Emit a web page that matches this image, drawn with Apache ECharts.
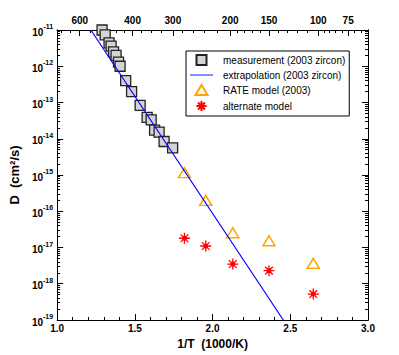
<!DOCTYPE html>
<html>
<head>
<meta charset="utf-8">
<script src="https://cdn.jsdelivr.net/npm/echarts@6/dist/echarts.min.js"></script>
<style>html,body{margin:0;padding:0;background:#fff}#c{width:399px;height:355px}</style>
</head>
<body>
<div id="c"></div>
<script>
// ---- data ----
var measX = [1.289, 1.309, 1.334, 1.347, 1.363, 1.379, 1.395, 1.405, 1.441, 1.479, 1.534, 1.579, 1.605, 1.627, 1.656, 1.688, 1.743];
var measD = [1.0e-11, 7.3e-12, 4.4e-12, 3.6e-12, 2.5e-12, 2.0e-12, 1.3e-12, 1.0e-12, 4.0e-13, 2.0e-13, 8.3e-14, 3.9e-14, 3.3e-14, 1.74e-14, 1.53e-14, 8.4e-15, 5.6e-15];
var extrapX = [1.217, 2.455];
var extrapD = [1e-11, 1e-19];
var modelX = [1.819, 1.956, 2.130, 2.363, 2.648];
var rateD = [1.16e-15, 2.0e-16, 2.56e-17, 1.54e-17, 3.66e-18];
var altD = [1.8e-17, 1.1e-17, 3.5e-18, 2.3e-18, 5.2e-19];
var seriesNames = ['measurement (2003 zircon)', 'extrapolation (2003 zircon)', 'RATE model (2003)', 'alternate model'];
// tick labels
var bottomTicks = [1.0, 1.5, 2.0, 2.5, 3.0];
var topMajorTemps = [600, 400, 300, 200, 150, 100, 75];
var topMinorTemps = [700, 650, 550, 500, 475, 450, 425, 375, 350, 325, 280, 260, 240, 220, 190, 180, 170, 160, 140, 130, 120, 110, 95, 90, 85, 80, 70, 65];
var decadeExps = [-19, -18, -17, -16, -15, -14, -13, -12, -11];

function zip(a, b) { return a.map(function (v, i) { return [v, b[i]]; }); }
function tempToX(t) { return 1000 / (t + 273.15); }
var decades = decadeExps.map(function (e) { return Math.pow(10, e); });
var minorLog = [];
decadeExps.slice(0, -1).forEach(function (e) { for (var m = 2; m <= 9; m++) minorLog.push(m * Math.pow(10, e)); });

var F = 'Liberation Sans, Arial, Helvetica, sans-serif';
var line = { show: true, lineStyle: { color: '#000', width: 1 } };
function logAxis(pos, ticks, len, labels) {
  return {
    type: 'log', logBase: 10, min: 1e-19, max: 1e-11, position: pos, gridIndex: 0,
    axisLine: line, splitLine: { show: false },
    axisTick: { show: true, inside: true, length: len, customValues: ticks, lineStyle: { color: '#000' } },
    axisLabel: labels ? {
      show: true, customValues: ticks, margin: 4, fontFamily: F,
      formatter: function (v) { return '{b|10}{s|' + Math.round(Math.log10(v)) + '}'; },
      rich: {
        b: { fontSize: 10, fontWeight: 'bold', fontFamily: F, color: '#000', lineHeight: 14, verticalAlign: 'bottom' },
        s: { fontSize: 7, fontWeight: 'bold', fontFamily: F, color: '#000', lineHeight: 8, verticalAlign: 'top' }
      }
    } : { show: false }
  };
}

var SQUARE = 'path://M0,0L10,0L10,10L0,10Z';
var TRI = 'path://M6,0L12,10L0,10Z';
var STAR = 'path://M0,-10L0,10M-10,0L10,0M-7,-7L7,7M-7,7L7,-7M-3,-3L3,-3L3,3L-3,3Z';
var HLINE = 'path://M0,0L46,0L46,2.4L0,2.4Z';

var chart = echarts.init(document.getElementById('c'), null, { renderer: 'svg' });
chart.setOption({
  animation: false,
  backgroundColor: '#fff',
  grid: { left: 57, right: 31, top: 30, bottom: 35 },
  xAxis: [
    {
      type: 'value', min: 1, max: 3, interval: 0.5, position: 'bottom',
      name: '1/T  (1000/K)', nameLocation: 'middle', nameGap: 17,
      nameTextStyle: { fontFamily: F, fontSize: 12, fontWeight: 'bold', color: '#000' },
      axisLine: line, splitLine: { show: false },
      axisTick: { inside: true, length: 6, lineStyle: { color: '#000' } },
      minorTick: { show: true, splitNumber: 5, length: 3, lineStyle: { color: '#000' } },
      axisLabel: { fontFamily: F, fontSize: 10, fontWeight: 'bold', color: '#000', margin: 3,
        customValues: bottomTicks, formatter: function (v) { return v.toFixed(1); } }
    },
    {
      type: 'value', min: 1, max: 3, position: 'top',
      axisLine: line, splitLine: { show: false },
      axisTick: { inside: true, length: 6, customValues: topMajorTemps.map(tempToX), lineStyle: { color: '#000' } },
      axisLabel: { fontFamily: F, fontSize: 10, fontWeight: 'bold', color: '#000', margin: 5,
        customValues: topMajorTemps.map(tempToX),
        formatter: function (v) { return String(Math.round(1000 / v - 273.15)); } }
    },
    {
      type: 'value', min: 1, max: 3, position: 'top',
      axisLine: line, splitLine: { show: false },
      axisTick: { inside: true, length: 3, customValues: topMinorTemps.map(tempToX), lineStyle: { color: '#000' } },
      axisLabel: { show: false }
    }
  ],
  yAxis: [
    Object.assign(logAxis('left', decades, 6, true), {
      name: 'D  (cm\u00b2/s)', nameLocation: 'middle', nameGap: 34,
      nameTextStyle: { fontFamily: F, fontSize: 13, fontWeight: 'bold', color: '#000' }
    }),
    logAxis('left', minorLog, 3, false),
    logAxis('right', decades, 6, false),
    logAxis('right', minorLog, 3, false)
  ],
  legend: {
    orient: 'vertical', left: 186, top: 51,
    padding: [3, 4, 4, 4], itemGap: 4, itemWidth: 23, itemHeight: 10,
    symbolKeepAspect: true,
    backgroundColor: '#fff', borderColor: '#000', borderWidth: 1, borderRadius: 0,
    textStyle: { fontFamily: F, fontSize: 10, color: '#000', padding: [0, 0, 0, 5] },
    data: [
      { name: seriesNames[0], icon: SQUARE },
      { name: seriesNames[1], icon: HLINE, itemStyle: { color: '#3344ff', borderWidth: 0 } },
      { name: seriesNames[2], icon: TRI },
      { name: seriesNames[3], icon: STAR }
    ]
  },
  series: [
    {
      name: seriesNames[0], type: 'scatter', xAxisIndex: 0, yAxisIndex: 0,
      symbol: 'rect', symbolSize: 10, clip: false,
      itemStyle: { color: '#d4d4d4', borderColor: '#222', borderWidth: 1.3, opacity: 1 },
      data: zip(measX, measD), z: 2
    },
    {
      name: seriesNames[1], type: 'line', xAxisIndex: 0, yAxisIndex: 0,
      symbol: 'none', clip: true,
      lineStyle: { color: '#0000ff', width: 1.2 },
      itemStyle: { color: '#0000ff' },
      data: zip(extrapX, extrapD), z: 3
    },
    {
      name: seriesNames[2], type: 'scatter', xAxisIndex: 0, yAxisIndex: 0,
      symbol: 'triangle', symbolSize: [12, 10],
      itemStyle: { color: 'rgba(255,255,255,0)', borderColor: '#ffa500', borderWidth: 1.5, opacity: 1 },
      data: zip(modelX, rateD), z: 2
    },
    {
      name: seriesNames[3], type: 'scatter', xAxisIndex: 0, yAxisIndex: 0,
      symbol: STAR,
      symbolSize: 11,
      itemStyle: { color: '#ff0000', borderColor: '#ff0000', borderWidth: 1.3, opacity: 1 },
      data: zip(modelX, altD), z: 2
    }
  ]
});
</script>
</body>
</html>
